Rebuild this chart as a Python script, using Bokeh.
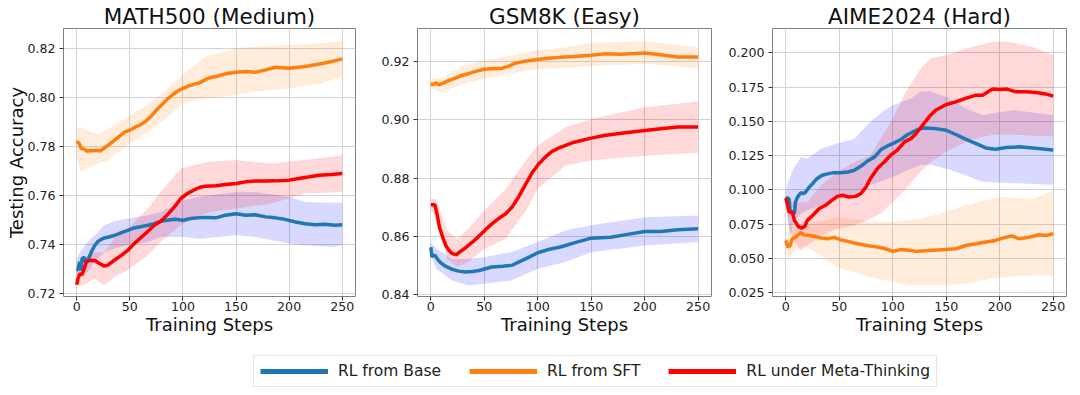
from bokeh.plotting import figure
from bokeh.layouts import row, column
from bokeh.models import Legend, LegendItem, Range1d, PrintfTickFormatter, FixedTicker
from bokeh.embed import file_html
from bokeh.resources import INLINE

# ---------------- data ----------------
x_ticks = [0, 50, 100, 150, 200, 250]
series_names = ["RL from Base", "RL from SFT", "RL under Meta-Thinking"]
panel_titles = ["MATH500 (Medium)", "GSM8K (Easy)", "AIME2024 (Hard)"]

# MATH500
math_base_steps = [0,1,3,4,5,7,8,11,14,17,20,23,26,30,36,42,48,54,60,67,73,79,85,92,100,107,116,121,131,140,150,159,168,178,187,196,206,215,225,234,243,250]
math_base_acc = [0.7300,0.7298,0.7330,0.7295,0.7343,0.7350,0.7330,0.7343,0.7373,0.7398,0.7414,0.7422,0.7428,0.7432,0.7439,0.7450,0.7459,0.7469,0.7474,0.7480,0.7486,0.7496,0.7500,0.7504,0.7500,0.7507,0.7511,0.7511,0.7510,0.7521,0.7527,0.7521,0.7523,0.7514,0.7510,0.7504,0.7493,0.7486,0.7482,0.7484,0.7480,0.7482]
math_sft_steps = [0,2,4,6,8,10,13,16,19,22,25,30,35,40,45,50,55,60,65,70,75,80,85,90,95,100,105,110,115,120,125,131,140,150,159,168,178,187,200,209,218,231,240,250]
math_sft_acc = [0.7822,0.7815,0.7795,0.7792,0.7788,0.7782,0.7785,0.7784,0.7786,0.7783,0.7792,0.7808,0.7825,0.7843,0.7860,0.7868,0.7880,0.7890,0.7905,0.7925,0.7950,0.7972,0.7993,0.8012,0.8028,0.8039,0.8048,0.8055,0.8060,0.8072,0.8082,0.8087,0.8098,0.8104,0.8107,0.8104,0.8114,0.8125,0.8121,0.8125,0.8130,0.8140,0.8148,0.8159]
math_meta_steps = [0,1,3,5,7,9,12,17,21,26,29,35,42,48,54,60,67,73,79,85,92,98,104,110,116,121,131,140,150,159,168,178,187,200,209,218,228,240,250]
math_meta_acc = [0.7237,0.7261,0.7282,0.7278,0.7302,0.7330,0.7336,0.7336,0.7325,0.7313,0.7316,0.7336,0.7357,0.7377,0.7405,0.7428,0.7455,0.7480,0.7496,0.7521,0.7555,0.7589,0.7609,0.7623,0.7635,0.7639,0.7641,0.7646,0.7650,0.7657,0.7660,0.7660,0.7661,0.7664,0.7671,0.7677,0.7684,0.7687,0.7691]

math_base_band_steps = [0,4,10,17,26,35,48,67,79,100,116,150,168,200,215,240,250]
math_base_lo = [0.7282,0.7276,0.7289,0.7330,0.7370,0.7384,0.7398,0.7411,0.7432,0.7432,0.7425,0.7439,0.7432,0.7405,0.7398,0.7391,0.7398]
math_base_hi = [0.7343,0.7377,0.7411,0.7439,0.7480,0.7496,0.7507,0.7521,0.7534,0.7582,0.7596,0.7616,0.7616,0.7596,0.7575,0.7572,0.7572]
math_sft_band_steps = [0,3,10,20,30,50,75,100,121,140,150,168,200,231,250]
math_sft_lo = [0.7756,0.7698,0.7712,0.7732,0.7746,0.7814,0.7882,0.7978,0.7998,0.8005,0.8012,0.8025,0.8039,0.8059,0.8087]
math_sft_hi = [0.7875,0.7882,0.7868,0.7850,0.7875,0.7927,0.7998,0.8094,0.8169,0.8189,0.8203,0.8210,0.8216,0.8223,0.8234]
math_meta_band_steps = [0,5,17,26,35,48,67,79,98,116,126,150,183,215,250]
math_meta_lo = [0.7234,0.7234,0.7261,0.7234,0.7268,0.7296,0.7357,0.7411,0.7480,0.7521,0.7534,0.7548,0.7568,0.7609,0.7616]
math_meta_hi = [0.7330,0.7343,0.7370,0.7370,0.7425,0.7466,0.7548,0.7616,0.7712,0.7732,0.7739,0.7746,0.7732,0.7746,0.7766]

# GSM8K
gsm_base_steps = [0,1,2,4,6,9,14,20,26,32,39,45,51,57,67,76,82,92,100,110,120,126,134,150,168,184,200,215,231,250]
gsm_base_acc = [0.8563,0.8529,0.8535,0.8535,0.8523,0.8510,0.8497,0.8487,0.8481,0.8478,0.8480,0.8483,0.8489,0.8495,0.8498,0.8501,0.8512,0.8529,0.8544,0.8555,0.8563,0.8569,0.8578,0.8594,0.8597,0.8607,0.8617,0.8617,0.8623,0.8626]
gsm_sft_steps = [0,3,5,7,11,17,23,29,35,42,50,57,67,73,79,88,100,110,121,134,150,162,178,200,215,231,250]
gsm_sft_acc = [0.9121,0.9123,0.9127,0.9120,0.9125,0.9135,0.9143,0.9152,0.9158,0.9166,0.9173,0.9175,0.9177,0.9184,0.9194,0.9201,0.9207,0.9211,0.9214,0.9217,0.9221,0.9226,0.9225,0.9229,0.9223,0.9215,0.9215]
gsm_meta_steps = [0,3,4,6,8,11,14,17,20,24,26,32,39,45,51,57,64,70,76,82,88,95,101,107,113,120,126,134,150,162,178,200,215,231,250]
gsm_meta_acc = [0.8709,0.8709,0.8706,0.8672,0.8632,0.8598,0.8569,0.8552,0.8541,0.8537,0.8544,0.8560,0.8581,0.8601,0.8623,0.8643,0.8663,0.8678,0.8701,0.8735,0.8775,0.8820,0.8849,0.8872,0.8891,0.8904,0.8912,0.8923,0.8937,0.8946,0.8954,0.8963,0.8969,0.8975,0.8975]

gsm_base_band_steps = [0,5,20,35,50,75,100,126,150,200,250]
gsm_base_lo = [0.8535,0.8489,0.8449,0.8432,0.8438,0.8449,0.8489,0.8512,0.8546,0.8569,0.8581]
gsm_base_hi = [0.8581,0.8558,0.8523,0.8523,0.8529,0.8546,0.8581,0.8621,0.8638,0.8666,0.8672]
gsm_sft_band_steps = [0,10,30,50,100,126,150,200,250]
gsm_sft_lo = [0.9106,0.9095,0.9123,0.9141,0.9175,0.9177,0.9184,0.9192,0.9177]
gsm_sft_hi = [0.9141,0.9141,0.9186,0.9203,0.9238,0.9249,0.9264,0.9269,0.9249]
gsm_meta_band_steps = [0,5,15,25,35,50,70,90,100,126,150,200,250]
gsm_meta_lo = [0.8689,0.8672,0.8523,0.8495,0.8512,0.8558,0.8592,0.8695,0.8763,0.8843,0.8860,0.8877,0.8887]
gsm_meta_hi = [0.8729,0.8729,0.8620,0.8592,0.8626,0.8689,0.8763,0.8866,0.8912,0.8975,0.9003,0.9043,0.9063]

# AIME2024
aime_base_steps = [0,1,3,4,6,8,9,11,14,16,18,22,25,29,34,40,45,51,58,64,70,76,83,89,95,100,108,114,120,126,131,140,150,159,168,178,187,196,206,218,231,243,250]
aime_base_acc = [0.0941,0.0941,0.0936,0.0839,0.0839,0.0827,0.0912,0.0948,0.0980,0.0973,0.0980,0.1021,0.1046,0.1082,0.1107,0.1119,0.1126,0.1126,0.1131,0.1143,0.1172,0.1209,0.1241,0.1294,0.1321,0.1338,0.1370,0.1404,0.1428,0.1447,0.1452,0.1447,0.1435,0.1404,0.1370,0.1338,0.1306,0.1296,0.1309,0.1314,0.1306,0.1296,0.1292]
aime_sft_steps = [0,2,4,6,9,14,17,22,26,33,39,45,51,58,67,76,86,93,100,108,117,121,134,150,159,168,178,187,196,206,212,218,228,237,243,250]
aime_sft_acc = [0.0632,0.0583,0.0595,0.0644,0.0656,0.0688,0.0673,0.0668,0.0664,0.0649,0.0644,0.0654,0.0637,0.0625,0.0608,0.0595,0.0583,0.0571,0.0552,0.0566,0.0559,0.0552,0.0559,0.0566,0.0571,0.0595,0.0608,0.0620,0.0632,0.0656,0.0664,0.0644,0.0656,0.0673,0.0668,0.0680]
aime_meta_steps = [0,1,3,6,8,10,12,15,18,20,25,31,37,43,48,53,59,65,70,75,79,86,92,98,104,111,117,121,126,134,140,150,159,168,178,184,193,200,207,215,225,234,243,250]
aime_meta_acc = [0.0941,0.0912,0.0839,0.0839,0.0778,0.0754,0.0730,0.0722,0.0737,0.0778,0.0814,0.0863,0.0888,0.0924,0.0953,0.0961,0.0948,0.0953,0.0973,0.1021,0.1082,0.1160,0.1204,0.1253,0.1289,0.1350,0.1374,0.1404,0.1452,0.1533,0.1581,0.1623,0.1642,0.1667,0.1691,0.1691,0.1735,0.1732,0.1735,0.1715,0.1715,0.1710,0.1700,0.1684]

aime_base_band_steps = [0,1,4,7,14,20,33,48,64,79,92,100,117,126,134,150,168,184,200,215,250]
aime_base_lo = [0.0900,0.0815,0.0656,0.0766,0.0827,0.0851,0.0888,0.0936,0.0973,0.1034,0.1070,0.1094,0.1155,0.1180,0.1185,0.1155,0.1107,0.1058,0.1053,0.1048,0.1038]
aime_base_hi = [0.0980,0.1034,0.1094,0.1155,0.1240,0.1228,0.1301,0.1338,0.1374,0.1496,0.1581,0.1618,0.1667,0.1715,0.1720,0.1679,0.1593,0.1545,0.1569,0.1581,0.1545]
aime_sft_band_steps = [0,2,8,17,33,48,64,79,100,117,126,150,168,200,231,250]
aime_sft_lo = [0.0571,0.0498,0.0550,0.0595,0.0522,0.0437,0.0400,0.0364,0.0328,0.0303,0.0303,0.0303,0.0316,0.0364,0.0376,0.0376]
aime_sft_hi = [0.0693,0.0700,0.0741,0.0754,0.0770,0.0802,0.0790,0.0766,0.0766,0.0780,0.0790,0.0839,0.0888,0.0948,0.0935,0.0990]
aime_meta_band_steps = [0,4,8,14,20,33,48,64,79,89,100,111,126,135,150,174,193,208,230,250]
aime_meta_lo = [0.0900,0.0700,0.0620,0.0559,0.0595,0.0668,0.0717,0.0741,0.0790,0.0830,0.0912,0.0997,0.1131,0.1200,0.1280,0.1370,0.1400,0.1405,0.1395,0.1390]
aime_meta_hi = [0.0961,0.0930,0.0900,0.0910,0.0912,0.1034,0.1131,0.1204,0.1250,0.1380,0.1520,0.1700,0.1886,0.1959,0.1983,0.2044,0.2080,0.2080,0.2044,0.1983]

math_y_ticks = [0.72, 0.74, 0.76, 0.78, 0.80, 0.82]
gsm_y_ticks = [0.84, 0.86, 0.88, 0.90, 0.92]
aime_y_ticks = [0.025, 0.050, 0.075, 0.100, 0.125, 0.150, 0.175, 0.200]

# ---------------- styling ----------------
FONT = "DejaVu Sans"
LINE_COLORS = ["#1f77b4", "#ff7f0e", "#ff0000"]
BAND_COLORS = ["#0000ff", "#ff7f0e", "#ff0000"]
TOP = 28
FRAME_H = 268
FIG_H = 343


def make_panel(title, ylim, yticks, yfmt, lines, bands, width, left, right, ylabel=None):
    p = figure(width=width, height=FIG_H, x_range=Range1d(-12.5, 262.5), y_range=Range1d(*ylim),
               output_backend="svg", toolbar_location=None, title=title,
               min_border_left=left, min_border_right=right,
               min_border_top=TOP, min_border_bottom=FIG_H - TOP - FRAME_H)
    p.title.align = "center"
    p.title.text_font = FONT
    p.title.text_font_size = "21.5px"
    p.title.text_font_style = "normal"
    p.title.text_color = "#111111"
    p.title.standoff = 0
    p.outline_line_color = "#808080"
    p.outline_line_width = 1
    p.grid.grid_line_color = "#d2d2d2"
    p.grid.grid_line_width = 1
    p.xaxis.ticker = FixedTicker(ticks=x_ticks)
    p.yaxis.ticker = FixedTicker(ticks=yticks)
    p.yaxis.formatter = PrintfTickFormatter(format=yfmt)
    p.axis.axis_line_color = None
    p.axis.major_tick_line_color = "#333333"
    p.axis.major_tick_out = 4
    p.axis.major_tick_in = 0
    p.axis.minor_tick_line_color = None
    p.axis.major_label_text_font = FONT
    p.axis.major_label_text_font_size = "12.6px"
    p.axis.major_label_text_color = "#222222"
    p.xaxis.major_label_standoff = 1
    p.yaxis.major_label_standoff = 4
    p.xaxis.axis_label = "Training Steps"
    p.axis.axis_label_text_font = FONT
    p.axis.axis_label_text_font_size = "18px"
    p.axis.axis_label_text_font_style = "normal"
    p.axis.axis_label_text_color = "#111111"
    p.xaxis.axis_label_standoff = 0
    p.yaxis.axis_label_standoff = -3
    if ylabel:
        p.yaxis.axis_label = ylabel
    for (bx, lo, hi), c in zip(bands, BAND_COLORS):
        p.varea(x=bx, y1=lo, y2=hi, fill_color=c, fill_alpha=0.15)
    for (lx, ly), c in zip(lines, LINE_COLORS):
        p.line(x=lx, y=ly, line_color=c, line_width=3.5)
    return p


p1 = make_panel(panel_titles[0], (0.7189, 0.8283), math_y_ticks, "%.2f",
                [(math_base_steps, math_base_acc), (math_sft_steps, math_sft_acc), (math_meta_steps, math_meta_acc)],
                [(math_base_band_steps, math_base_lo, math_base_hi),
                 (math_sft_band_steps, math_sft_lo, math_sft_hi),
                 (math_meta_band_steps, math_meta_lo, math_meta_hi)],
                width=377, left=63, right=22, ylabel="Testing Accuracy")
p2 = make_panel(panel_titles[1], (0.8394, 0.9313), gsm_y_ticks, "%.2f",
                [(gsm_base_steps, gsm_base_acc), (gsm_sft_steps, gsm_sft_acc), (gsm_meta_steps, gsm_meta_acc)],
                [(gsm_base_band_steps, gsm_base_lo, gsm_base_hi),
                 (gsm_sft_band_steps, gsm_sft_lo, gsm_sft_hi),
                 (gsm_meta_band_steps, gsm_meta_lo, gsm_meta_hi)],
                width=347, left=40, right=13)
p3 = make_panel(panel_titles[2], (0.0223, 0.2177), aime_y_ticks, "%.3f",
                [(aime_base_steps, aime_base_acc), (aime_sft_steps, aime_sft_acc), (aime_meta_steps, aime_meta_acc)],
                [(aime_base_band_steps, aime_base_lo, aime_base_hi),
                 (aime_sft_band_steps, aime_sft_lo, aime_sft_hi),
                 (aime_meta_band_steps, aime_meta_lo, aime_meta_hi)],
                width=356, left=48, right=14)

# legend strip
LEG_H = 395 - FIG_H
lp = figure(width=1080, height=LEG_H, x_range=Range1d(0, 1), y_range=Range1d(0, 1),
            output_backend="svg", toolbar_location=None,
            x_axis_location=None, y_axis_location=None, min_border=0)
lp.grid.visible = False
lp.outline_line_color = None
items = []
for name, c in zip(series_names, LINE_COLORS):
    r = lp.line(x=[-2, -1], y=[-2, -1], line_color=c, line_width=5)
    items.append(LegendItem(label=name, renderers=[r]))
legend = Legend(items=items, orientation="horizontal", location=(253, 8),
                glyph_width=68, glyph_height=18, label_height=18, label_standoff=10,
                spacing=28, padding=6, margin=0,
                border_line_color="#d0d0d0", border_line_width=1,
                background_fill_color="white", background_fill_alpha=1,
                label_text_font=FONT, label_text_font_size="15.5px", label_text_color="#222222")
lp.add_layout(legend, "center")

layout = column(row(p1, p2, p3), lp)
open("out.html", "w").write(file_html(layout, INLINE))
